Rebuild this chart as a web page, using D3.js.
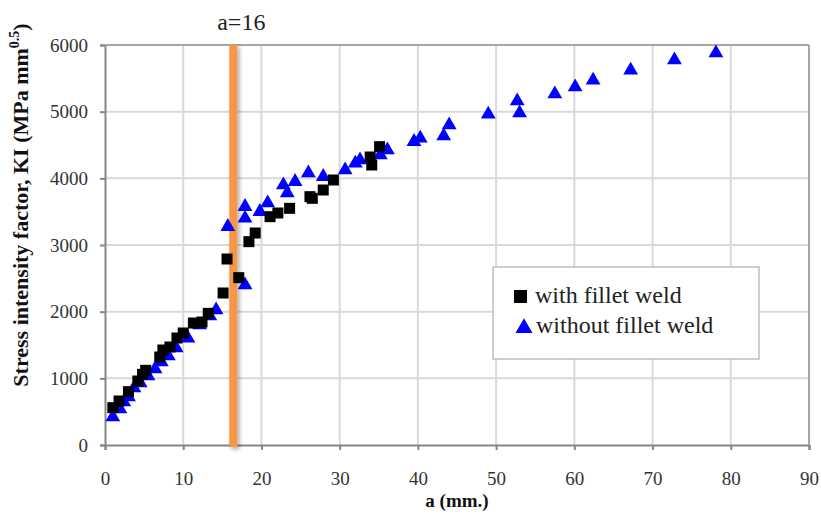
<!DOCTYPE html>
<html>
<head>
<meta charset="utf-8">
<script src="https://cdn.jsdelivr.net/npm/d3@7"></script>
<style>
  body { margin: 0; background: #fff; }
  svg text { font-family: "Liberation Serif", "DejaVu Serif", serif; }
</style>
</head>
<body>
<svg id="chart" width="821" height="516"></svg>
<script>
// données
const withA = [1.0, 1.8, 3.0, 4.2, 4.8, 5.2, 7.0, 7.4, 8.3, 9.2, 10.0, 11.3, 12.4, 13.2, 15.1, 15.6, 17.1, 18.4, 19.2, 21.1, 22.1, 23.6, 26.2, 26.5, 27.9, 29.2, 33.9, 34.1, 35.1];
const withK = [560, 660, 800, 960, 1060, 1120, 1320, 1425, 1470, 1605, 1680, 1830, 1845, 1975, 2280, 2790, 2510, 3050, 3180, 3425, 3480, 3550, 3725, 3700, 3825, 3975, 4320, 4200, 4475];

const withoutA = [1.0, 1.9, 2.4, 3.0, 3.7, 4.5, 5.5, 6.4, 7.2, 8.1, 9.1, 10.6, 12.1, 13.4, 14.2, 15.7, 17.9, 17.9, 17.9, 19.8, 20.8, 22.8, 23.3, 24.3, 26.0, 27.9, 30.7, 32.0, 32.6, 35.2, 36.1, 39.5, 40.3, 43.3, 44.0, 49.0, 52.7, 53.0, 57.5, 60.1, 62.4, 67.2, 72.8, 78.1];
const withoutK = [420, 540, 645, 720, 855, 930, 1035, 1140, 1245, 1335, 1455, 1600, 1800, 1935, 2025, 3275, 3575, 3400, 2400, 3500, 3630, 3900, 3780, 3950, 4080, 4025, 4125, 4225, 4275, 4350, 4425, 4550, 4600, 4635, 4800, 4960, 5160, 4980, 5265, 5370, 5470, 5620, 5775, 5880];

const xTicks = [0, 10, 20, 30, 40, 50, 60, 70, 80, 90];
const yTicks = [0, 1000, 2000, 3000, 4000, 5000, 6000];
const markerA = 16.4;
const markerLabel = "a=16";
const seriesNames = ["with fillet weld", "without fillet weld"];

const svg = d3.select("#chart");
const gauche = 105, droite = 809, haut = 45, bas = 445;

const x = d3.scaleLinear().domain([0, 90]).range([gauche, droite]);
const y = d3.scaleLinear().domain([0, 6000]).range([bas, haut]);

// grille
svg.append("g").selectAll("line").data(xTicks.slice(1)).join("line")
  .attr("x1", d => x(d)).attr("x2", d => x(d))
  .attr("y1", haut).attr("y2", bas)
  .attr("stroke", "#d9d9d9").attr("stroke-width", 2);
svg.append("g").selectAll("line").data(yTicks.slice(1)).join("line")
  .attr("x1", gauche).attr("x2", droite)
  .attr("y1", d => y(d)).attr("y2", d => y(d))
  .attr("stroke", "#d9d9d9").attr("stroke-width", 2);

// axes
const axeX = svg.append("g").attr("transform", `translate(0,${bas})`)
  .call(d3.axisBottom(x).tickValues(xTicks).tickFormat(d3.format("d")).tickSize(5).tickPadding(22));
const axeY = svg.append("g").attr("transform", `translate(${gauche},0)`)
  .call(d3.axisLeft(y).tickValues(yTicks).tickFormat(d3.format("d")).tickSize(5).tickPadding(12));
[axeX, axeY].forEach(a => {
  a.attr("font-family", "'Liberation Serif', serif").attr("font-size", 19);
  a.select(".domain").attr("stroke", "#868686").attr("stroke-width", 2);
  a.selectAll(".tick line").attr("stroke", "#868686").attr("stroke-width", 2);
  a.selectAll(".tick text").attr("fill", "#333");
});

// bord du cadre
svg.append("line").attr("x1", gauche).attr("x2", droite).attr("y1", haut).attr("y2", haut)
  .attr("stroke", "#a6a6a6").attr("stroke-width", 2);
svg.append("line").attr("x1", droite).attr("x2", droite).attr("y1", haut).attr("y2", bas)
  .attr("stroke", "#a6a6a6").attr("stroke-width", 2);

// ligne a=16
const defs = svg.append("defs");
const f = defs.append("filter").attr("id", "ombre")
  .attr("filterUnits", "userSpaceOnUse")
  .attr("x", 0).attr("y", 0).attr("width", 821).attr("height", 516);
f.append("feDropShadow").attr("dx", 2).attr("dy", 2).attr("stdDeviation", 2)
  .attr("flood-color", "#000").attr("flood-opacity", 0.35);
svg.append("rect")
  .attr("x", x(markerA) - 4).attr("width", 8)
  .attr("y", haut).attr("height", bas - haut + 2)
  .attr("fill", "#f79646")
  .attr("filter", "url(#ombre)");
svg.append("text")
  .attr("x", x(markerA) + 8).attr("y", 30)
  .attr("text-anchor", "middle")
  .style("font-size", "24px").attr("fill", "#222")
  .text(markerLabel);

// points
const sans = withoutA.map((a, i) => ({ a: a, k: withoutK[i] }));
const avec = withA.map((a, i) => ({ a: a, k: withK[i] }));
const tri = d3.symbol().type(d3.symbolTriangle).size(95);

svg.append("g").selectAll("path").data(sans).join("path")
  .attr("d", tri)
  .attr("transform", d => `translate(${x(d.a)},${y(d.k)})`)
  .attr("fill", "#0000ff");

svg.append("g").selectAll("rect").data(avec).join("rect")
  .attr("x", d => x(d.a) - 5.5).attr("y", d => y(d.k) - 5.5)
  .attr("width", 11).attr("height", 11)
  .attr("fill", "#000");

// titres des axes
svg.append("text")
  .attr("x", 457).attr("y", 507)
  .attr("text-anchor", "middle")
  .style("font-size", "19px").style("font-weight", "bold").attr("fill", "#111")
  .text("a (mm.)");

const titreY = svg.append("text")
  .attr("transform", "translate(28,205) rotate(-90)")
  .attr("text-anchor", "middle")
  .style("font-size", "22px").style("font-weight", "bold").attr("fill", "#111");
titreY.append("tspan").text("Stress intensity factor, KI (MPa mm");
titreY.append("tspan").attr("dy", -9).style("font-size", "14px").text("0.5");
titreY.append("tspan").attr("dy", 9).text(")");

// légende
const leg = svg.append("g");
leg.append("rect")
  .attr("x", 493).attr("y", 267).attr("width", 266).attr("height", 92)
  .attr("fill", "#fff").attr("stroke", "#bfbfbf").attr("stroke-width", 1.5);
leg.append("rect").attr("x", 514).attr("y", 290).attr("width", 13).attr("height", 13).attr("fill", "#000");
leg.append("path").attr("d", d3.symbol().type(d3.symbolTriangle).size(125))
  .attr("transform", "translate(524,328)").attr("fill", "#0000ff");
leg.append("text").attr("x", 535).attr("y", 303)
  .style("font-size", "24px").attr("fill", "#222").text(seriesNames[0]);
leg.append("text").attr("x", 536).attr("y", 333)
  .style("font-size", "24px").attr("fill", "#222").text(seriesNames[1]);
</script>
</body>
</html>
